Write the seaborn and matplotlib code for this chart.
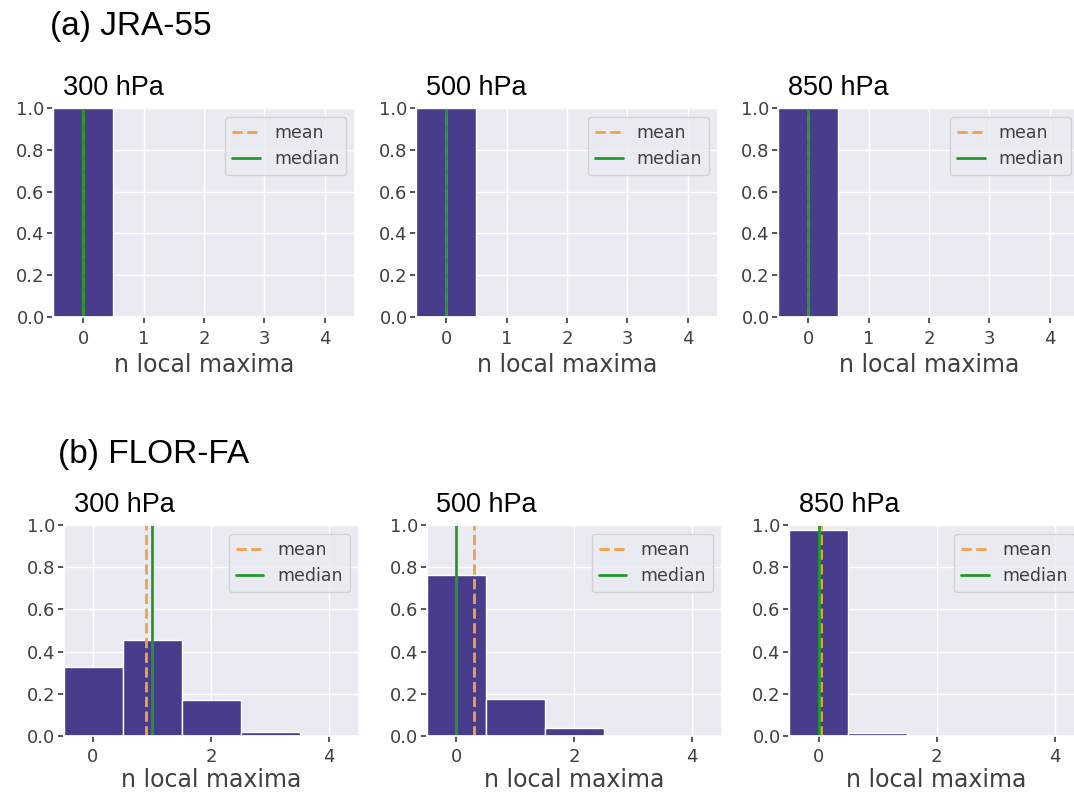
import numpy as np
import matplotlib
matplotlib.use("Agg")
import matplotlib.pyplot as plt
import seaborn as sns

# datos: fraccion de casos por numero de maximos locales
n_bins = [0, 1, 2, 3, 4]
levels = ["300 hPa", "500 hPa", "850 hPa"]

jra_300 = [1.0, 0.0, 0.0, 0.0, 0.0]
jra_500 = [1.0, 0.0, 0.0, 0.0, 0.0]
jra_850 = [1.0, 0.0, 0.0, 0.0, 0.0]
jra_mean = [0.0, 0.0, 0.0]
jra_median = [0.0, 0.0, 0.0]

flor_300 = [0.326, 0.456, 0.172, 0.02, 0.0]
flor_500 = [0.762, 0.174, 0.04, 0.0, 0.0]
flor_850 = [0.976, 0.012, 0.0, 0.0, 0.0]
flor_mean = [0.9, 0.3, 0.035]
flor_median = [1.0, 0.0, 0.0]

bar_color = "#483d8b"
mean_color = "#f5a045"
median_color = "#229a2a"

sns.set_theme(style="darkgrid", rc={"xtick.bottom": True, "ytick.left": True,
                                    "xtick.major.size": 4, "ytick.major.size": 4,
                                    "xtick.color": ".25", "ytick.color": ".25"})

W, H = 1074, 796
fig = plt.figure(figsize=(W / 100, H / 100), dpi=100)


def panel(left_px, top_px, width_px, height_px, frac, mean, median, xticks, level, pad):
    ax = fig.add_axes([left_px / W, 1 - (top_px + height_px) / H, width_px / W, height_px / H])
    keep = [(n, f) for n, f in zip(n_bins, frac) if f > 0]
    sns.histplot(x=[k[0] for k in keep], weights=[k[1] for k in keep], discrete=True,
                 color=bar_color, alpha=1, edgecolor="white", linewidth=1, ax=ax)
    ax.axvline(mean, color=mean_color, ls="--", lw=2, label="mean")
    ax.axvline(median, color=median_color, lw=2, label="median")
    ax.set_xlim(-0.5, 4.5)
    ax.set_ylim(0, 1)
    ax.set_xticks(xticks)
    ax.set_yticks(np.arange(0, 1.01, 0.2))
    ax.tick_params(axis="x", labelsize=13, pad=5)
    ax.tick_params(axis="y", labelsize=13, pad=2)
    ax.set_ylabel("")
    ax.set_xlabel("n local maxima", fontsize=17, color=".25", labelpad=pad)
    ax.legend(loc="upper right", fontsize=12.5, handlelength=1.6, labelcolor=".25")
    ax.text(10 / width_px, 1 + 13 / height_px, level, transform=ax.transAxes, color="black",
            fontsize=19.5, family="Liberation Sans", va="baseline", ha="left")
    return ax


# fila (a) JRA-55
top_lefts = [53, 416, 778]
for i, frac in enumerate([jra_300, jra_500, jra_850]):
    panel(top_lefts[i], 108, 302, 209, frac, jra_mean[i], jra_median[i],
          [0, 1, 2, 3, 4], levels[i], 4)

# fila (b) FLOR-FA
bot_lefts = [63.5, 426.5, 789]
for i, frac in enumerate([flor_300, flor_500, flor_850]):
    panel(bot_lefts[i], 525, 295, 211, frac, flor_mean[i], flor_median[i],
          [0, 2, 4], levels[i], 1)

fig.text(50 / W, 1 - 35 / H, "(a) JRA-55", fontsize=24, color="black",
         family="Liberation Sans", va="baseline")
fig.text(58 / W, 1 - 463 / H, "(b) FLOR-FA", fontsize=24, color="black",
         family="Liberation Sans", va="baseline")

fig.savefig("out.png", dpi=100)
